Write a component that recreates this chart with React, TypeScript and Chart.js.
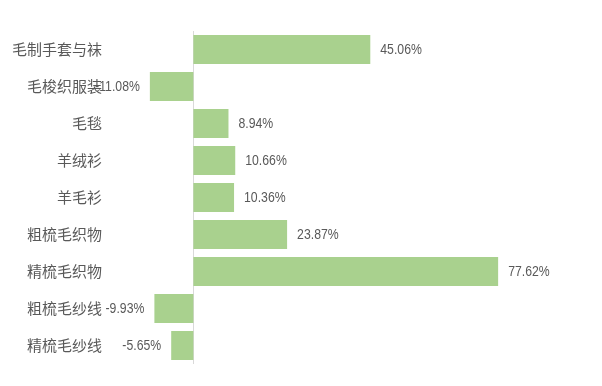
import React, { useEffect, useRef } from "react";
import { Chart, registerables } from "chart.js";

Chart.register(...registerables);

const categories = [
  "毛制手套与袜",
  "毛梭织服装",
  "毛毯",
  "羊绒衫",
  "羊毛衫",
  "粗梳毛织物",
  "精梳毛织物",
  "粗梳毛纱线",
  "精梳毛纱线",
];
const values = [45.06, -11.08, 8.94, 10.66, 10.36, 23.87, 77.62, -9.93, -5.65];

const barColor = "#A9D18E";
const textColor = "#595959";

const valueLabels = {
  id: "valueLabels",
  afterDatasetsDraw(chart: any) {
    const ctx = chart.ctx;
    const meta = chart.getDatasetMeta(0);
    ctx.save();
    ctx.font = '14.5px "Liberation Sans", Arial, sans-serif';
    ctx.fillStyle = textColor;
    ctx.textBaseline = "middle";
    const ref = ctx.measureText("45.06%").width;
    const sx = 41.6 / ref;
    meta.data.forEach((bar: any, i: number) => {
      const v = values[i];
      const txt = v.toFixed(2) + "%";
      const w = ctx.measureText(txt).width * sx;
      const x0 = v >= 0 ? bar.x + 10 : bar.x - 10 - w;
      ctx.save();
      ctx.translate(x0, bar.y + 0.5);
      ctx.scale(sx, 1);
      ctx.textAlign = "left";
      ctx.fillText(txt, 0, 0);
      ctx.restore();
    });
    ctx.restore();
  },
};

const zeroLine = {
  id: "zeroLine",
  beforeDatasetsDraw(chart: any) {
    const ctx = chart.ctx;
    const x = Math.round(chart.scales.x.getPixelForValue(0)) + 0.5;
    const area = chart.chartArea;
    ctx.save();
    ctx.strokeStyle = "#D9D9D9";
    ctx.lineWidth = 1;
    ctx.beginPath();
    ctx.moveTo(x, area.top);
    ctx.lineTo(x, area.bottom);
    ctx.stroke();
    ctx.restore();
  },
};

export default function App() {
  const ref = useRef<HTMLCanvasElement>(null);
  useEffect(() => {
    document.body.style.margin = "0";
    const chart = new Chart(ref.current!, {
      type: "bar",
      data: {
        labels: categories,
        datasets: [
          {
            data: values,
            backgroundColor: barColor,
            borderWidth: 0,
            barPercentage: 0.785,
            categoryPercentage: 1,
          },
        ],
      },
      options: {
        indexAxis: "y",
        animation: false,
        responsive: false,
        maintainAspectRatio: false,
        layout: { padding: { top: 31, bottom: 22, left: 0, right: 16 } },
        plugins: { legend: { display: false }, tooltip: { enabled: false } },
        scales: {
          x: {
            display: false,
            min: -22,
            max: 100,
          },
          y: {
            grid: { display: false, drawTicks: false },
            border: { display: false },
            ticks: {
              color: textColor,
              padding: 5,
              font: { size: 15, family: '"Noto Sans CJK SC", sans-serif' },
            },
            afterFit(scale: any) {
              scale.width = 107;
            },
          },
        },
      },
      plugins: [zeroLine, valueLabels],
    });
    return () => chart.destroy();
  }, []);
  return <canvas ref={ref} width={602} height={386} style={{ display: "block" }} />;
}
